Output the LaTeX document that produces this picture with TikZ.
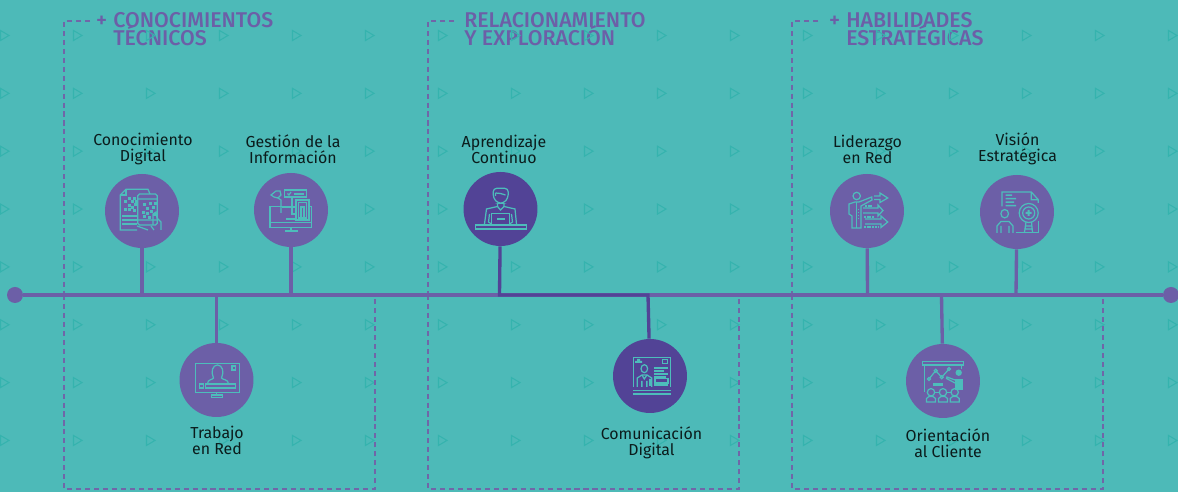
\documentclass[tikz,border=0pt]{standalone}
\usepackage{fontspec}
\setmainfont{Fira Sans}
\newfontfamily\headfont{Fira Sans Medium}
\usetikzlibrary{backgrounds}
\definecolor{bgteal}{HTML}{4DBAB8}
\definecolor{triteal}{HTML}{35B3AE}
\definecolor{iconteal}{HTML}{4DBDBB}
\definecolor{lilac}{HTML}{6C5FA7}
\definecolor{deeplilac}{HTML}{524396}
\definecolor{boxlilac}{HTML}{7066A8}

\begin{document}
\lineskiplimit=-10pt\relax
\begin{tikzpicture}[x=0.02cm, y=-0.02cm,
  skill/.style = {circle, fill=lilac, minimum size=1.48cm, inner sep=0pt},
  deepskill/.style = {skill, fill=deeplilac},
  enddot/.style = {circle, fill=lilac, minimum size=0.32cm, inner sep=0pt},
  skilltext/.style = {align=center, inner sep=0pt, text=black!85!bgteal, font=\fontsize{9.05}{9.1}\selectfont},
  headtext/.style = {align=left, anchor=west, inner sep=0pt, text=lilac, font=\headfont\fontsize{12.15}{10.3}\selectfont},
  stem/.style = {draw=lilac, line width=1.9pt},
  deepstem/.style = {draw=deeplilac, line width=1.9pt},
  dashbox/.style = {draw=boxlilac, line width=0.75pt, dash pattern=on 2.9pt off 2.2pt},
  tri/.style = {draw=triteal, line width=0.6pt},
  icon/.style = {draw=iconteal, line width=0.7pt},
  ink/.style = {fill=iconteal, draw=none}]

\useasboundingbox (0,0) rectangle (1178,492);

\node (start) at (15,295) [enddot]{};
\node (end) at (1171,295) [enddot]{};

\node (c1) at (142,211) [skill]{};
\node (c2) at (291,210) [skill]{};
\node (c3) at (216.5,380) [skill]{};
\node (c4) at (500.5,209) [deepskill]{};
\node (c5) at (650,376) [deepskill]{};
\node (c6) at (867,211) [skill]{};
\node (c7) at (1017,212) [skill]{};
\node (c8) at (943,381) [skill]{};

\coordinate (j1) at (142,295);
\coordinate (j2) at (291,295);
\coordinate (j3) at (216.5,295);
\coordinate (j4) at (499.5,295);
\coordinate (j5) at (648,295);
\coordinate (j6) at (867.5,295);
\coordinate (j7) at (1016,295);
\coordinate (j8) at (941.5,295);

\begin{scope}[on background layer]
\fill [bgteal] (0,0) rectangle (1178,492);

\node (h1) at (113,29) [headtext]{\llap{+\hspace{3.6pt}}CONOCIMIENTOS\\TÉCNICOS};
\node (h2) at (464,29) [headtext]{RELACIONAMIENTO\\Y EXPLORACIÓN};
\node (h3) at (846,29) [headtext]{\llap{+\hspace{3.6pt}}HABILIDADES\\ESTRATÉGICAS};

% pattern
\foreach \col in {0,...,16}
  \foreach \row in {0,...,7}
    \draw [tri] (0.5+73*\col,30.5+57.85*\row) -- (9+73*\col,35.5+57.85*\row) -- (0.5+73*\col,40.5+57.85*\row) -- cycle;

% dashed frames
\foreach \left in {64,428,792} {
  \draw [dashbox] (\left+26,21) -- (\left,21) -- (\left,295);
  \draw [dashbox] (\left,295) -- (\left,489) -- (\left+311,489) -- (\left+311,295);
}

\draw [stem] (start) -- (end);
\draw [stem] (c1) -- (j1);
\draw [stem] (c2) -- (j2);
\draw [stem] (c3) -- (j3);
\draw [stem] (c6) -- (j6);
\draw [stem] (c7) -- (j7);
\draw [stem] (c8) -- (j8);
\draw [deepstem] (c4) -- (j4) -- (j5) -- (c5);
\end{scope}

\node (l1) at (143,149) [skilltext]{Conocimiento\\Digital};
\node (l2) at (293,149) [skilltext]{Gestión de la\\Información};
\node (l3) at (217,440) [skilltext]{Trabajo\\en Red};
\node (l4) at (504,149) [skilltext]{Aprendizaje\\Continuo};
\node (l5) at (651.5,443) [skilltext]{Comunicación\\Digital};
\node (l6) at (867.5,149) [skilltext]{Liderazgo\\en Red};
\node (l7) at (1017.5,149) [skilltext]{Visión\\Estratégica};
\node (l8) at (948,443) [skilltext]{Orientación\\al Cliente};

% icon c1
\begin{scope}[shift={(c1.center)}]
\draw [icon] (-5,19) -- (-21.7,19) -- (-21.7,-16) -- (-16,-21.7) -- (6,-21.7) -- (8,-17);
\draw [icon] (-21.7,-16) -- (-16,-16) -- (-16,-21.7);
\draw [icon, rounded corners=1pt] (-4.3,-17) rectangle (15.3,14);
\draw [icon] (-4.3,-12) -- (15.3,-12) (-4.3,9) -- (15.3,9) (-5,15) -- (6,19);
\draw [icon] (11,14) -- (11,3) -- (14,1) -- (15,7) -- (19,11) -- (19,19) (12,19) -- (9,15);
\draw [icon] (-20,5) -- (-5,5) (-20,9) -- (-5,9) (-20,13) -- (-5,13);
\foreach \qx/\qy in {-18/-11,-14/-14,-11/-11,-9/-14,-8/-8,-11/-5,-14/-7,-18/-3,-9/-2,-7/-11,1/-8,4/-4,7/-9,10/-5,0/0,4/1,8/-1,11/2,1/4,6/5,-14/-3,12/-9}
  \fill [ink] (\qx,\qy) rectangle +(2.6,2.6);
\end{scope}

% icon c2
\begin{scope}[shift={(c2.center)}]
\draw [icon] (3,-3.3) -- (-21,-3.3) -- (-21,17.3) -- (20.7,17.3) -- (20.7,-3.3) -- (18,-3.3);
\draw [icon] (-21,12.3) -- (20.7,12.3) (0,17.3) -- (0,20) (-6,21) -- (6.5,21);
\fill [ink] (-21,11.7) rectangle (20.7,13.2);
\draw [icon] (-6.7,-20) rectangle (15.7,-13);
\fill [ink] (3,-17.4) rectangle (13,-15.4);
\draw [icon] (-3.5,-16.5) -- (-2,-15) -- (0,-18);
\draw [icon] (5,-10) rectangle (18,10);
\draw [icon] (7.5,-7.5) rectangle (15.5,8);
\draw [icon] (10,-3) rectangle (13,8);
\draw [icon] (-15,-19) -- (-11,-19) -- (-10,-15) -- (-13,-12) -- (-17,-13) -- (-20,-15) -- cycle;
\draw [icon] (-13,-12) -- (-10,-10) -- (-10,3);
\draw [icon] (1,-13) -- (1,4) -- (5,4) (-9,-3) -- (5,-3) (-5,9) -- (5,9);
\end{scope}

% icon c3
\begin{scope}[shift={(c3.center)}]
\draw [icon] (-21,-16.7) rectangle (23,12.3);
\draw [icon] (-10.7,4) rectangle (18.7,8);
\draw [icon] (15.5,-14) rectangle (19,-10);
\draw [icon] (-17,4) rectangle (-13,8);
\draw [icon] (-9,4) .. controls (-9,-1) and (-4,0) .. (-3,-2) .. controls (-6,-8) and (-4,-15) .. (1,-15) .. controls (6,-15) and (8,-8) .. (5,-2) .. controls (6,0) and (12,-1) .. (12,4);
\draw [icon] (0,12.3) -- (0,15) (-5,15) rectangle (6,17.3);
\end{scope}

% icon c4
\begin{scope}[shift={(c4.center)}]
\draw [icon] (-25,16) rectangle (26,20);
\draw [icon] (-9.3,15.5) -- (-9.3,4.3) -- (9.3,4.3) -- (9.3,15.5);
\fill [ink] (-3.3,9.2) rectangle (4.7,10.8);
\draw [icon, rounded corners=2pt] (-7.3,-20.7) -- (7.7,-20.7) -- (7.7,-11) -- (3,-5.7) -- (-2.5,-5.7) -- (-7.3,-11) -- cycle;
\draw [icon] (-5,-16) -- (0,-15.5) -- (5,-14) (-5,-13) -- (-5,-16);
\draw [icon] (-3,-5.5) -- (-3,-2.5) -- (-14,0) -- (-16,15) (3.5,-5.5) -- (3.5,-2.5) -- (14.5,0) -- (16,15);
\draw [icon] (-3,-2.5) -- (0,1) -- (3.5,-2.5) (-11,5) -- (-12,13) -- (-9,15) (11,5) -- (12,13) -- (9,15);
\end{scope}

% icon c5
\begin{scope}[shift={(c5.center)}]
\draw [icon] (-16.7,11) -- (-16.7,-18.7) -- (20.7,-18.7) -- (20.7,11);
\draw [icon] (-16.7,14.3) -- (20.7,14.3);
\fill [ink] (-16.7,17.2) rectangle (20.7,19.2);
\fill [ink] (-15,-13) rectangle (-8,-15) (-13,-15) rectangle (-10,-17);
\draw [icon] (12.7,-16.3) rectangle (17.7,-12.3);
\draw [icon] (-5.7,-7.3) circle [x radius=3.3, y radius=4];
\draw [icon] (-12.7,11) -- (-12.7,2) -- (-8,-1) -- (-3,-1) -- (1.7,2) -- (1.7,11);
\draw [icon] (-8,-1) -- (-5.7,3) -- (-3,-1);
\fill [ink] (-9,5) rectangle (-7.5,11) (-4,5) rectangle (-2.5,11) (-1,3) rectangle (1,10);
\foreach \ty/\tx in {-9/18,-6/14,-3/18,0/16}
  \fill [ink] (4,\ty) rectangle (\tx,\ty+1.8);
\draw [icon] (5,2.5) rectangle (18,7);
\fill [ink] (4,8.5) rectangle (18,10.5);
\end{scope}

% icon c6
\begin{scope}[shift={(c6.center)}]
\draw [icon] (-10.3,-15) circle [radius=3.7];
\draw [icon] (-15,17) -- (-15,5) -- (-18,3) -- (-18,-7) -- (-12,-9) -- (-8,-9) -- (4.7,-14) -- (5,-11) -- (-6,-5) -- (-6,17) -- cycle;
\draw [icon] (-10.3,-9) -- (-10.3,17);
\foreach \ay in {-2,1,4,7}
  \fill [ink] (-9.3,\ay) rectangle (-8,\ay+1);
\draw [icon] (7,-15) -- (13,-15) -- (13,-18) -- (20.7,-13) -- (13,-8.5) -- (13,-11.5) -- (7,-11.5);
\draw [icon] (-4,-3) -- (11,-3) -- (11,-6) -- (16,-0.5) -- (11,5) -- (11,2) -- (-4,2);
\draw [icon] (-2,8) -- (14,8) -- (14,5) -- (20.7,11) -- (14,16.5) -- (14,13) -- (-2,13);
\foreach \dx/\dy/\dn in {-2/-6/3,-3/5/4,-3/15.5/6}
  \foreach \di in {1,...,\dn}
    \fill [ink] (\dx+\di*2.7-2.7,\dy) rectangle +(1.8,1.6);
\end{scope}

% icon c7
\begin{scope}[shift={(c7.center)}]
\draw [icon] (-15,-5.7) -- (-15,-20) -- (14.3,-20) -- (21.3,-12.3) -- (21.3,-9) (14.3,-20) -- (14.3,-12.3) -- (21.3,-12.3);
\fill [ink] (-11.3,-17.5) rectangle (-5,-16) (-11.3,-14) rectangle (-1,-12.5) (-11.3,-10.7) rectangle (-3,-9.2) (-11.3,-7) rectangle (-1,-5.5);
\draw [icon] (11.7,1) circle [radius=9.5];
\draw [icon] (11.7,1) circle [radius=6];
\fill [ink] (10.7,-2) rectangle (12.7,4) (8.7,0) rectangle (14.7,2);
\draw [icon] (9,10) -- (7.5,20.3) (14.5,10) -- (15.5,20.3) (8,14) -- (15,14) (8,17) -- (15,17);
\draw [icon] (-1.3,20.3) -- (21.3,20.3) -- (21.3,9.3);
\draw [icon] (-12.3,1.7) circle [x radius=3.8, y radius=4.2];
\draw [icon] (-20,21) -- (-20,14) -- (-16,9.5) -- (-8,9.5) -- (-4,14) -- (-4,21) (-16,21) -- (-16,14) (-8,21) -- (-8,14);
\end{scope}

% icon c8
\begin{scope}[shift={(c8.center)}]
\draw [icon] (-20.3,-19.3) rectangle (20.3,-16);
\draw [icon] (-18.3,-16) -- (-18.3,11.3) (18.7,-16) -- (18.7,-12);
\draw [icon] (-14,-2) -- (-7.3,-10.3) -- (-1.3,-3.7) -- (6,-12);
\foreach \px/\py in {-14/-2,-7.3/-10.3,-1.3/-3.7,6/-12}
  \draw [icon, fill=lilac] (\px,\py) circle [radius=1.5];
\fill [ink] (15.7,-8.3) circle [radius=3.2];
\fill [ink] (12,-2) rectangle (19.7,9);
\draw [icon] (12,-1) -- (4,-4) -- (3.5,-2.5) -- (12,2);
\fill [ink] (-9.7,2) rectangle (0.3,5.3);
\foreach \ax in {-12,0,11.7} {
  \draw [icon] (\ax,11.3) circle [radius=3.7];
  \draw [icon] (\ax-4.5,21) -- (\ax-4.5,17.5) -- (\ax-2,15.5) -- (\ax+2,15.5) -- (\ax+4.5,17.5) -- (\ax+4.5,21) -- cycle;
}
\draw [icon] (-8.3,11.3) -- (-3.7,11.3) (3.7,11.3) -- (8,11.3);
\end{scope}

\end{tikzpicture}
\end{document}
